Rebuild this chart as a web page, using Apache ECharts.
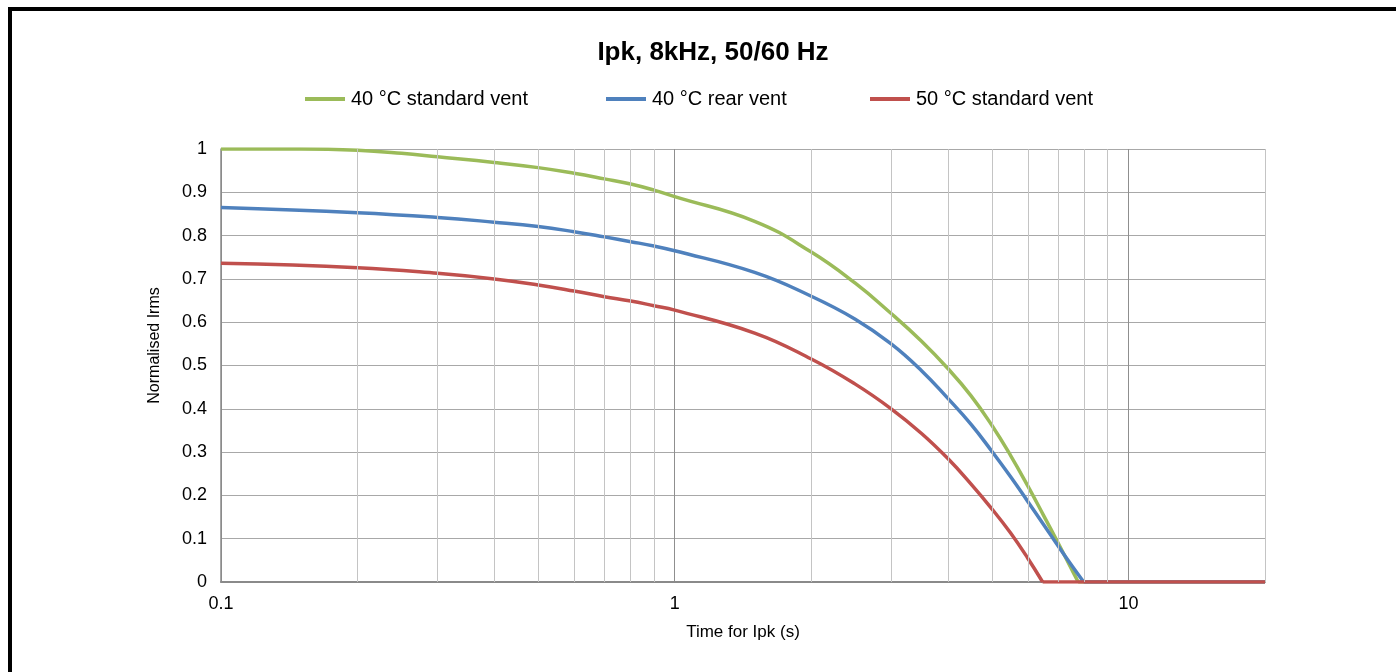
<!DOCTYPE html>
<html><head><meta charset="utf-8">
<script src="https://cdn.jsdelivr.net/npm/echarts@6/dist/echarts.min.js"></script>
<style>html,body{margin:0;padding:0;background:#fff}#c{width:1396px;height:672px}</style>
</head><body><div id="c"></div>
<script>
const titleText = 'Ipk, 8kHz, 50/60 Hz';
const xAxisName = 'Time for Ipk (s)';
const yAxisName = 'Normalised Irms';
const seriesNames = ['40 °C standard vent', '40 °C rear vent', '50 °C standard vent'];
const seriesColors = ['#9BBB59', '#4F81BD', '#C0504D'];

const greenTime  = [0.1, 0.15, 0.2, 0.25, 0.3, 0.4, 0.5, 0.6, 0.7, 0.8, 0.9, 1, 1.5, 2, 2.5, 3, 3.5, 4, 4.5, 5, 5.5, 6, 6.5, 7, 7.5, 7.75, 20];
const greenValue = [1, 1, 0.997, 0.99, 0.982, 0.969, 0.957, 0.944, 0.931, 0.919, 0.905, 0.89, 0.833, 0.762, 0.69, 0.62, 0.556, 0.493, 0.43, 0.362, 0.292, 0.222, 0.154, 0.09, 0.029, 0, 0];

const blueTime  = [0.1, 0.2, 0.3, 0.4, 0.5, 0.6, 0.7, 0.8, 0.9, 1, 1.5, 2, 2.5, 3, 3.5, 4, 4.5, 5, 5.5, 6, 6.5, 7, 7.5, 7.97, 20];
const blueValue = [0.865, 0.853, 0.842, 0.831, 0.821, 0.809, 0.797, 0.786, 0.776, 0.765, 0.715, 0.66, 0.607, 0.55, 0.488, 0.424, 0.364, 0.302, 0.243, 0.186, 0.133, 0.083, 0.038, 0, 0];

const redTime  = [0.1, 0.2, 0.3, 0.4, 0.5, 0.6, 0.7, 0.8, 0.9, 1, 1.5, 2, 2.5, 3, 3.5, 4, 4.5, 5, 5.5, 6, 6.47, 20];
const redValue = [0.736, 0.726, 0.713, 0.7, 0.686, 0.672, 0.659, 0.649, 0.638, 0.628, 0.575, 0.515, 0.457, 0.4, 0.343, 0.285, 0.226, 0.169, 0.113, 0.055, 0, 0];

const minorGridTimes = [0.2, 0.3, 0.4, 0.5, 0.6, 0.7, 0.8, 0.9, 2, 3, 4, 5, 6, 7, 8, 9, 20];
const legendLefts = [305, 606, 870];

const FONT = '"Liberation Sans", Arial, sans-serif';

function buildSeries(name, color, times, values) {
  const zeroIdx = values.indexOf(0);
  const curve = [], tail = [];
  for (let i = 0; i < times.length; i++) {
    if (i <= zeroIdx) curve.push([times[i], values[i]]);
    if (i >= zeroIdx) tail.push([times[i], values[i]]);
  }
  const common = {
    name, type: 'line', showSymbol: false, symbol: 'none', z: 3,
    lineStyle: { color, width: 3.5 }, itemStyle: { color }, silent: true
  };
  return [
    Object.assign({}, common, { data: curve, smooth: 0.45 }),
    Object.assign({}, common, { data: tail, smooth: false })
  ];
}

const chart = echarts.init(document.getElementById('c'), null, { renderer: 'canvas' });
const series = [
  {
    name: 'grid', type: 'line', data: [], z: 1, silent: true,
    markLine: {
      silent: true, symbol: ['none', 'none'], animation: false,
      label: { show: false },
      lineStyle: { color: '#c4c4c4', width: 1, type: 'solid' },
      emphasis: { disabled: true },
      data: minorGridTimes.map(t => ({ xAxis: t }))
    }
  },
  ...buildSeries(seriesNames[0], seriesColors[0], greenTime, greenValue),
  ...buildSeries(seriesNames[1], seriesColors[1], blueTime, blueValue),
  ...buildSeries(seriesNames[2], seriesColors[2], redTime, redValue)
];

chart.setOption({
  animation: false,
  backgroundColor: '#fff',
  title: {
    text: titleText, left: 713, top: 40, textAlign: 'center', padding: 0,
    textStyle: { fontFamily: FONT, fontSize: 26, fontWeight: 'bold', color: '#000' }
  },
  legend: seriesNames.map((n, i) => ({
    data: [n], left: legendLefts[i], top: 89, padding: 0,
    icon: 'rect', itemWidth: 40, itemHeight: 4, selectedMode: false,
    textStyle: { fontFamily: FONT, fontSize: 20, color: '#000', padding: [0, 0, 0, 1] }
  })),
  grid: { left: 221, right: 131, top: 149, bottom: 90, containLabel: false },
  xAxis: {
    type: 'log', logBase: 10, min: 0.1, max: 20,
    name: xAxisName, nameLocation: 'middle', nameGap: 42,
    nameTextStyle: { fontFamily: FONT, fontSize: 17, color: '#000' },
    axisLine: { show: true, lineStyle: { color: '#8a8a8a', width: 2 } },
    axisTick: { show: false },
    axisLabel: { fontFamily: FONT, fontSize: 18, color: '#000', margin: 13, showMaxLabel: false,
      formatter: v => String(+(+v).toPrecision(3)) },
    splitLine: { show: true, lineStyle: { color: '#8f8f8f', width: 1 } }
  },
  yAxis: {
    type: 'value', min: 0, max: 1, interval: 0.1,
    name: yAxisName, nameLocation: 'middle', nameGap: 58,
    nameTextStyle: { fontFamily: FONT, fontSize: 16, color: '#000', padding: [0, 0, 0, 40] },
    axisLine: { show: true, lineStyle: { color: '#8a8a8a', width: 1.5 } },
    axisTick: { show: false },
    axisLabel: { fontFamily: FONT, fontSize: 18, color: '#000', margin: 14 },
    splitLine: { show: true, lineStyle: { color: '#a8a8a8', width: 1 } }
  },
  graphic: [{
    type: 'rect', silent: true, z: 10,
    shape: { x: 10, y: 9, width: 1600, height: 900 },
    style: { fill: 'none', stroke: '#000', lineWidth: 4 }
  }],
  series
});
</script></body></html>
